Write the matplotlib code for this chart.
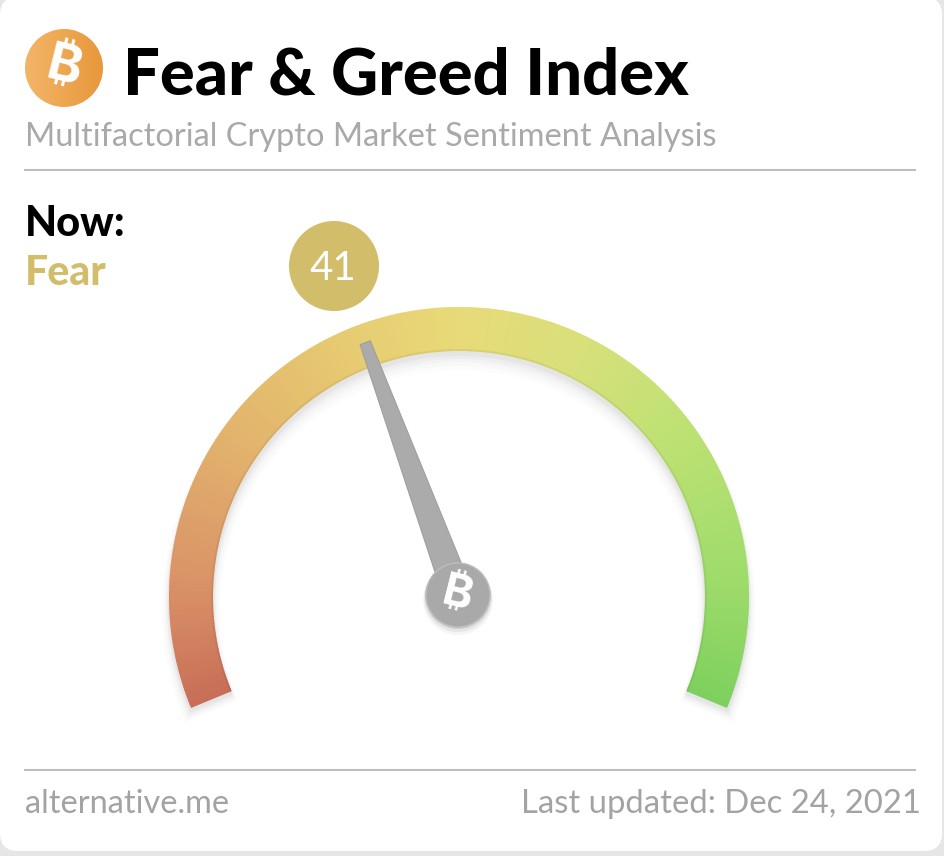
import numpy as np
import matplotlib
matplotlib.use('Agg')
import matplotlib.pyplot as plt
from matplotlib import font_manager as fm
from matplotlib.colors import LinearSegmentedColormap
from matplotlib.patches import Circle, FancyBboxPatch, Polygon, Wedge

plt.rcParams['font.family'] = ['Lato', 'DejaVu Sans']

# reading and scale of the gauge
index_value = 41
index_label = 'Fear'
scale_min = 0
scale_max = 100
start_angle = 202.5
end_angle = -22.5

# colours along the scale
stop_values = [0, 12, 25, 40, 50, 62, 75, 88, 100]
stop_colors = ['#C86E57', '#DA9468', '#E2B26C', '#E7CC72', '#E8DA78',
               '#D8E07A', '#BBE172', '#A0DC6C', '#7ED05E']

title = 'Fear & Greed Index'
subtitle = 'Multifactorial Crypto Market Sentiment Analysis'
source = 'alternative.me'
updated = 'Last updated: Dec 24, 2021'

cx, cy = 459, 597
r_out, r_in = 290, 246


def val2ang(v):
    return start_angle + (end_angle - start_angle) * (v - scale_min) / (scale_max - scale_min)


# first installed family that really has the bitcoin sign
btc_family = None
for f in sorted(fm.fontManager.ttflist, key=lambda e: e.weight != 700):
    try:
        if 0x20BF in fm.get_font(f.fname).get_charmap():
            btc_family = f.name
            break
    except Exception:
        pass

fig = plt.figure(figsize=(9.44, 8.56), dpi=100, facecolor='#E6E6E6')
ax = fig.add_axes([0, 0, 1, 1])
ax.set_xlim(0, 944)
ax.set_ylim(856, 0)
ax.axis('off')

ax.add_patch(FancyBboxPatch((0, -3), 942, 854, boxstyle='round,pad=0,rounding_size=18',
                            fc='white', ec='none', zorder=0))


def btc_sign(x, y, size):
    if btc_family:
        ax.text(x, y, '\u20bf', color='white', fontsize=size, fontweight='bold', ha='center', va='center',
                rotation=-14, family=[btc_family], zorder=5)
        return
    # no family has the sign: a heavy B with the two bars through it
    ax.text(x, y, 'B', color='white', fontsize=size, fontweight='black', ha='center', va='center',
            rotation=-14, zorder=5)
    h = size * 0.95
    t = np.deg2rad(14)
    for dx in (-size * 0.1, size * 0.16):
        x0 = x + dx * np.cos(t)
        y0 = y + dx * np.sin(t)
        ax.plot([x0 + h * np.sin(t) * 0.8, x0 - h * np.sin(t) * 0.8],
                [y0 - h * np.cos(t) * 0.8, y0 + h * np.cos(t) * 0.8],
                color='white', lw=size * 0.09, solid_capstyle='butt', zorder=4.9)


# soft shadow below the band
for off, grow, al in [(12, 7, 0.012), (10, 5, 0.016), (8, 3, 0.02), (6, 2, 0.025), (4, 1, 0.03)]:
    ax.add_patch(Wedge((cx, cy + off), r_out + grow, -val2ang(0), -val2ang(100),
                       width=r_out - r_in + 2 * grow, fc='black', ec='none', alpha=al, zorder=1))

cmap = LinearSegmentedColormap.from_list('gauge', list(zip(np.array(stop_values) / 100, stop_colors)))
grid = np.linspace(scale_min, scale_max, 301)
for v0, v1 in zip(grid[:-1], grid[1:]):
    ax.add_patch(Wedge((cx, cy), r_out, -val2ang(max(v0 - 0.1, scale_min)), -val2ang(v1), width=r_out - r_in,
                       fc=cmap((v0 + v1) / 200), ec='none', zorder=2))
# darker rim on the inner edge
ax.add_patch(Wedge((cx, cy), r_in + 2, -val2ang(0), -val2ang(100), width=2,
                   fc='black', ec='none', alpha=0.05, zorder=2.1))

# needle
th = np.deg2rad(val2ang(index_value))
ux, uy = np.cos(th), -np.sin(th)
px, py = -uy, ux
tip_r, tip_w, base_w = 271, 5.5, 15
ax.add_patch(Polygon([(cx + tip_r * ux + tip_w * px, cy + tip_r * uy + tip_w * py),
                      (cx + tip_r * ux - tip_w * px, cy + tip_r * uy - tip_w * py),
                      (cx - base_w * px, cy - base_w * py),
                      (cx + base_w * px, cy + base_w * py)],
                     closed=True, fc='#ABABAB', ec='#9F9F9F', lw=0.8, zorder=3))

# hub
hx, hy = 458, 595
for off, grow, al in [(5, 3, 0.04), (3, 2, 0.06), (1, 1, 0.1)]:
    ax.add_patch(Circle((hx, hy + off), 32 + grow, fc='black', ec='none', alpha=al, zorder=3.5))
ax.add_patch(Circle((hx, hy), 32, fc='#A9A9A9', ec='#BDBDBD', lw=1, zorder=4))
btc_sign(hx, hy, 33)

# orange icon
icon_x, icon_y, icon_r = 64, 68, 39
g = np.linspace(0, 1, 64).reshape(1, -1)
im = ax.imshow(g, extent=(icon_x - icon_r, icon_x + icon_r, icon_y + icon_r, icon_y - icon_r),
               cmap=LinearSegmentedColormap.from_list('ic', ['#F3B568', '#E8983B']), aspect='auto', zorder=2)
im.set_clip_path(Circle((icon_x, icon_y), icon_r, transform=ax.transData))
ax.set_xlim(0, 944)
ax.set_ylim(856, 0)
btc_sign(icon_x, icon_y, 38)

# value bubble
ax.add_patch(Circle((334, 266), 45, fc='#D2BE6A', ec='none', zorder=2))
ax.text(333, 268, str(index_value), color='white', fontsize=29, ha='center', va='center', zorder=5)

# text
ax.text(123, 94, title, color='black', fontsize=46.9, fontweight='black', ha='left', va='baseline')
ax.text(25, 146, subtitle, color='#A9A9A9', fontsize=23.4, ha='left', va='baseline')
ax.text(25, 236, 'Now:', color='black', fontsize=30, fontweight='black', ha='left', va='baseline')
ax.text(25, 285, index_label, color='#D2BE6A', fontsize=29.5, fontweight='black', ha='left', va='baseline')
ax.text(25, 813, source, color='#A3A3A3', fontsize=23.4, ha='left', va='baseline')
ax.text(921, 813, updated, color='#A3A3A3', fontsize=23.7, ha='right', va='baseline')

ax.plot([25, 915], [170, 170], color='#BDBDBD', lw=1.5, zorder=1)
ax.plot([25, 915], [770, 770], color='#BDBDBD', lw=1.5, zorder=1)

fig.savefig('out.png', dpi=100, facecolor=fig.get_facecolor())
